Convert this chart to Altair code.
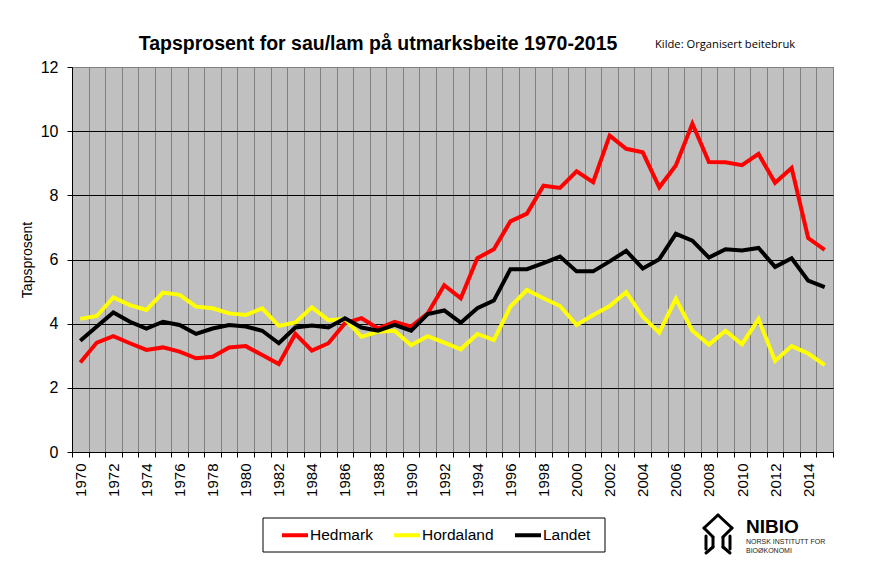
import altair as alt
import pandas as pd

years = list(range(1970, 2016))
hedmark = [2.79, 3.41, 3.61, 3.39, 3.18, 3.26, 3.13, 2.92, 2.97, 3.26,
           3.30, 3.02, 2.74, 3.68, 3.16, 3.39, 4.01, 4.17, 3.85, 4.06,
           3.91, 4.32, 5.20, 4.79, 6.04, 6.32, 7.19, 7.43, 8.30, 8.23,
           8.75, 8.41, 9.86, 9.45, 9.34, 8.25, 8.93, 10.23, 9.04, 9.03,
           8.94, 9.29, 8.39, 8.85, 6.67, 6.30]
hordaland = [4.15, 4.24, 4.82, 4.58, 4.43, 4.97, 4.90, 4.53, 4.48, 4.32,
             4.27, 4.48, 3.93, 4.04, 4.51, 4.11, 4.15, 3.59, 3.75, 3.78,
             3.33, 3.61, 3.41, 3.20, 3.68, 3.49, 4.53, 5.05, 4.79, 4.55,
             3.96, 4.27, 4.55, 4.98, 4.22, 3.72, 4.78, 3.78, 3.35, 3.78,
             3.36, 4.14, 2.84, 3.30, 3.07, 2.71]
landet = [3.47, 3.91, 4.35, 4.06, 3.85, 4.06, 3.96, 3.68, 3.85, 3.96,
          3.91, 3.78, 3.39, 3.88, 3.94, 3.88, 4.17, 3.88, 3.78, 3.96,
          3.78, 4.30, 4.41, 4.03, 4.48, 4.72, 5.70, 5.70, 5.89, 6.09,
          5.63, 5.63, 5.94, 6.27, 5.72, 6.01, 6.80, 6.59, 6.06, 6.32,
          6.28, 6.36, 5.77, 6.04, 5.34, 5.14]
series_names = ["Hedmark", "Hordaland", "Landet"]
series_colors = ["#ff0000", "#ffff00", "#000000"]
y_ticks = [0, 2, 4, 6, 8, 10, 12]

title_text = "Tapsprosent for sau/lam på utmarksbeite 1970-2015"
source_text = "Kilde: Organisert beitebruk"

rows = []
for name, vals in zip(series_names, [hedmark, hordaland, landet]):
    for yr, v in zip(years, vals):
        rows.append({"year": yr, "value": v, "series": name})
df = pd.DataFrame(rows)

W, H = 761, 385
OX, OY = 72, 67  # plot origin on page
FONT = "Liberation Sans"
boundaries = [y - 0.5 for y in years] + [years[-1] + 0.5]
band = W / len(years)

lines = alt.Chart(df).mark_line(strokeWidth=4).encode(
    x=alt.X("year:Q",
            scale=alt.Scale(domain=[boundaries[0], boundaries[-1]], nice=False, zero=False),
            axis=alt.Axis(values=boundaries, title=None, grid=True, gridColor="#808080",
                          gridWidth=1, tickSize=5, tickColor="black", domainColor="black",
                          labelExpr="((datum.value + 0.5) % 2 == 0 && datum.value < 2015) ? '' + (datum.value + 0.5) : ''",
                          labelAngle=270, labelAlign="right", labelBaseline="middle",
                          labelOffset=band / 2, labelPadding=6, labelFlush=False,
                          labelOverlap=False, labelFont=FONT, labelFontSize=15,
                          labelColor="black")),
    y=alt.Y("value:Q", scale=alt.Scale(domain=[0, 12], nice=False),
            axis=alt.Axis(values=y_ticks, title="Tapsprosent", titleFont=FONT,
                          titleFontSize=14, titleFontWeight="normal", titleColor="black",
                          titlePadding=6, grid=True,
                          gridColor={"condition": {"test": "datum.value === 12", "value": "#808080"}, "value": "black"},
                          gridWidth=1, tickSize=5, tickColor="black", domainColor="black",
                          labelFont=FONT, labelFontSize=16, labelColor="black",
                          labelPadding=9)),
    color=alt.Color("series:N",
                    scale=alt.Scale(domain=series_names, range=series_colors),
                    legend=alt.Legend(title=None, orient="none", direction="horizontal",
                                      legendX=280 - OX, legendY=533 - 13 - OY,
                                      symbolType="stroke", symbolStrokeWidth=4,
                                      symbolSize=676, labelFont=FONT, labelFontSize=15.5,
                                      labelColor="black", labelOffset=0,
                                      columnPadding=13, padding=0)),
)

one = pd.DataFrame({"a": [0]})

legend_box = alt.Chart(one).mark_rect(fill="white", stroke="black", strokeWidth=1).encode(
    x=alt.value(263 - OX), x2=alt.value(605 - OX),
    y=alt.value(518 - OY), y2=alt.value(552 - OY))

title = alt.Chart(one).mark_text(text=title_text, font=FONT, fontSize=19.5, fontWeight="bold",
                                 align="center", baseline="alphabetic", color="black").encode(
    x=alt.value(378 - OX), y=alt.value(50 - OY))

source = alt.Chart(one).mark_text(text=source_text, font="Open Sans", fontSize=11.2,
                                  align="left", baseline="alphabetic", color="black").encode(
    x=alt.value(655 - OX), y=alt.value(48 - OY))

nibio = alt.Chart(one).mark_text(text="NIBIO", font=FONT, fontSize=19, fontWeight="bold",
                                 align="left", baseline="alphabetic", color="black").encode(
    x=alt.value(746 - OX), y=alt.value(533 - OY))
nibio2 = alt.Chart(one).mark_text(text="NORSK INSTITUTT FOR", font=FONT, fontSize=7,
                                  align="left", baseline="alphabetic", color="#222").encode(
    x=alt.value(746 - OX), y=alt.value(544 - OY))
nibio3 = alt.Chart(one).mark_text(text="BIOØKONOMI", font=FONT, fontSize=7,
                                  align="left", baseline="alphabetic", color="#222").encode(
    x=alt.value(746 - OX), y=alt.value(553 - OY))

segs = [(718, 515, 704, 528), (718, 515, 732, 528), (704, 528, 713, 537), (732, 528, 723, 537),
        (713, 537, 713, 547), (723, 537, 723, 547), (713, 547, 706, 553), (723, 547, 730, 553),
        (706, 536, 706, 549), (730, 536, 730, 549)]
logo_layers = []
for x1, y1, x2, y2 in segs:
    logo_layers.append(alt.Chart(one).mark_rule(color="black", strokeWidth=3, strokeCap="round").encode(
        x=alt.value(x1 - OX), y=alt.value(y1 - OY), x2=alt.value(x2 - OX), y2=alt.value(y2 - OY)))

chart = alt.layer(lines, legend_box, title, source, nibio, nibio2, nibio3, *logo_layers).properties(
    width=W, height=H,
    autosize=alt.AutoSizeParams(type="none"),
    padding={"left": OX - 8, "top": OY - 8, "right": 877 - 16 - (OX - 8) - W - 2,
             "bottom": 577 - 16 - (OY - 8) - H - 2},
    background="white",
).configure_view(fill="#c0c0c0", stroke="#808080", strokeWidth=1)

chart.save("out.html", embed_options={"renderer": "svg", "actions": False})
